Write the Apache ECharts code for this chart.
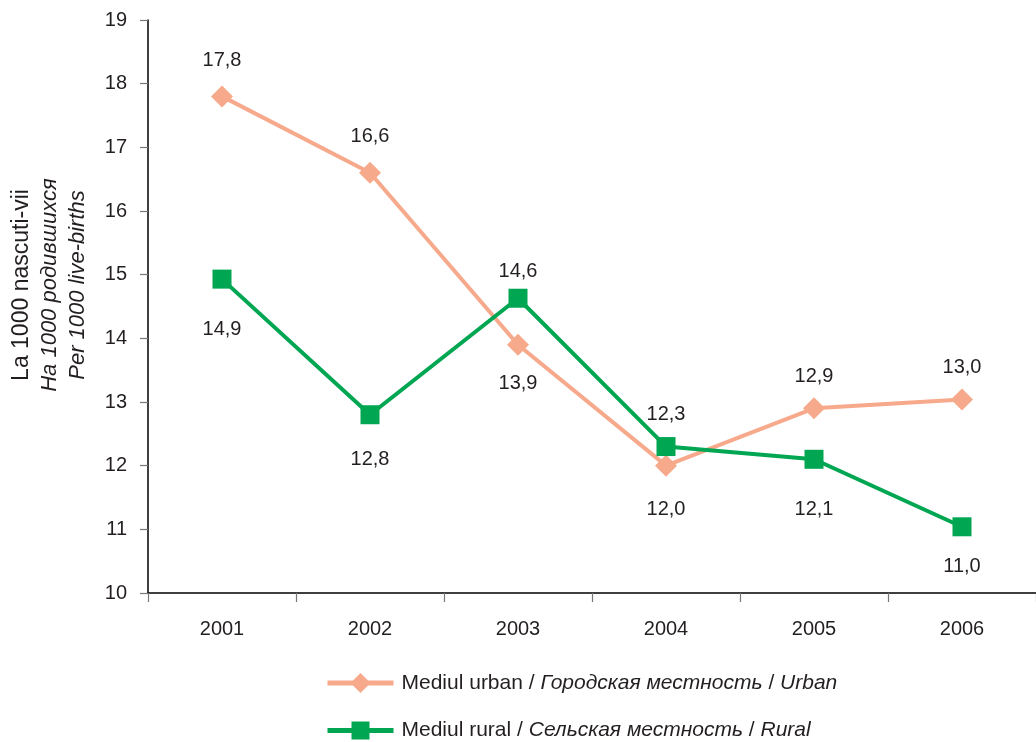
<!DOCTYPE html>
<html><head><meta charset="utf-8">
<script src="https://cdn.jsdelivr.net/npm/echarts@6/dist/echarts.min.js"></script>
<style>html,body{margin:0;padding:0;background:#fff}#c{width:1036px;height:742px}</style>
</head><body><div id="c"></div>
<script>
const years = ['2001','2002','2003','2004','2005','2006'];
const urban = [17.8, 16.6, 13.9, 12.0, 12.9, 13.04];
const rural = [14.93, 12.8, 14.63, 12.3, 12.1, 11.04];
const yTicks = {min: 10, max: 19, interval: 1};

// label placement (style only)
const urbanLabelPos = ['top','top','bottom','bottom','top','top'];
const urbanLabelDist = [14.5, 15.5, 17.5, 22.5, 10.5, 10.5];
const ruralLabelPos = ['bottom','bottom','top','top','bottom','bottom'];
const ruralLabelDist = [30.5, 25.5, 7.5, 12.5, 30.5, 20.5];

const FONT = '"Liberation Sans", Arial, sans-serif';
const TXT = '#231f20';
const URBAN_C = '#f7a98b';
const RURAL_C = '#00a651';
const fmt = v => v.toFixed(1).replace('.', ',');

function mkData(vals, pos, dist) {
  return vals.map((v, i) => ({
    value: v,
    label: {position: pos[i], distance: dist[i]}
  }));
}

const legendText = {
  fontSize: 21, color: TXT, fontFamily: FONT, padding: [0,0,0,3],
  rich: {
    n: {fontSize: 21, color: TXT, fontFamily: FONT},
    i: {fontSize: 21, color: TXT, fontFamily: FONT, fontStyle: 'italic'}
  }
};
const legendFmt = function (name) {
  if (name === 'urban') return '{n|Mediul urban / }{i|Городская местность}{n| / }{i|Urban}';
  return '{n|Mediul rural / }{i|Сельская местность}{n| / }{i|Rural}';
};

const chart = echarts.init(document.getElementById('c'), null, {renderer: 'canvas'});
chart.setOption({
  animation: false,
  backgroundColor: '#ffffff',
  textStyle: {fontFamily: FONT},
  grid: {left: 148, right: -8, top: 20, bottom: 149, containLabel: false},
  xAxis: {
    type: 'category',
    data: years,
    boundaryGap: true,
    axisLine: {lineStyle: {color: '#000', width: 1.5}},
    axisTick: {show: true, length: 9, lineStyle: {color: '#777', width: 1.2}},
    axisLabel: {color: TXT, fontSize: 20, margin: 26, fontFamily: FONT},
    splitLine: {show: false}
  },
  yAxis: {
    type: 'value',
    min: yTicks.min, max: yTicks.max, interval: yTicks.interval,
    axisLine: {show: true, lineStyle: {color: '#000', width: 1.5}},
    axisTick: {show: true, length: 8, lineStyle: {color: '#777', width: 1.2}},
    axisLabel: {color: TXT, fontSize: 20, margin: 21, fontFamily: FONT},
    splitLine: {show: false}
  },
  legend: [{
    orient: 'horizontal',
    left: 325, top: 672.5, padding: 0,
    itemWidth: 66, itemHeight: 25,
    lineStyle: {width: 5},
    textStyle: legendText,
    formatter: legendFmt,
    data: ['urban']
  }, {
    orient: 'horizontal',
    left: 325, top: 720, padding: 0,
    itemWidth: 66, itemHeight: 22.5,
    lineStyle: {width: 5},
    textStyle: legendText,
    formatter: legendFmt,
    data: ['rural']
  }],
  graphic: [{
    type: 'text',
    x: 50, y: 285,
    rotation: Math.PI / 2,
    style: {
      text: '{a|La 1000 nascuti-vii}\n{b|На 1000 родившихся}\n{b|Per 1000 live-births}',
      align: 'center',
      verticalAlign: 'middle',
      fill: TXT,
      rich: {
        a: {fontSize: 23, fontFamily: FONT, fill: TXT, lineHeight: 28, align: 'center'},
        b: {fontSize: 22, fontFamily: FONT, fill: TXT, fontStyle: 'italic', lineHeight: 28, align: 'center'}
      }
    }
  }],
  series: [
    {
      name: 'urban',
      type: 'line',
      data: mkData(urban, urbanLabelPos, urbanLabelDist),
      symbol: 'diamond',
      symbolSize: 22,
      lineStyle: {color: URBAN_C, width: 4},
      itemStyle: {color: URBAN_C},
      label: {show: true, fontSize: 20, color: TXT, fontFamily: FONT, formatter: p => fmt(p.value)},
      z: 2
    },
    {
      name: 'rural',
      type: 'line',
      data: mkData(rural, ruralLabelPos, ruralLabelDist),
      symbol: 'rect',
      symbolSize: 19,
      lineStyle: {color: RURAL_C, width: 4},
      itemStyle: {color: RURAL_C},
      label: {show: true, fontSize: 20, color: TXT, fontFamily: FONT, formatter: p => fmt(p.value)},
      z: 3
    }
  ]
});
</script>
</body></html>
